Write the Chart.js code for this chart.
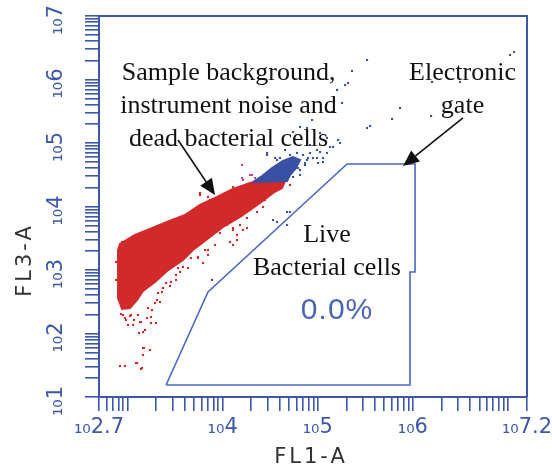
<!DOCTYPE html>
<html>
<head>
<meta charset="utf-8">
<style>
  html, body { margin: 0; padding: 0; background: #fff; }
</style>
</head>
<body>
<canvas id="cytoChart" width="552" height="472"></canvas>
<script src="https://cdn.jsdelivr.net/npm/chart.js"></script>
<script>
// all values are log10 exponents: [FL1-A, FL3-A]
var xRange = [2.7, 7.2];
var yRange = [1, 7];
var xLabelExps = [2.7, 4, 5, 6, 7.2];
var yLabelExps = [1, 2, 3, 4, 5, 6, 7];

var gateOutline = [[3.405, 1.189], [3.846, 2.654], [5.308, 4.669], [6.023, 4.669],
    [6.023, 2.969], [5.970, 2.969], [5.970, 1.189], [3.405, 1.189]];

var redCloudOutline = [[2.90, 3.315], [2.921, 3.41], [3.079, 3.551], [3.236, 3.646], [3.415, 3.756],
    [3.604, 3.866], [3.762, 4.024], [3.941, 4.150], [4.109, 4.276], [4.288, 4.370], [4.361, 4.402],
    [4.656, 4.402], [4.624, 4.291], [4.530, 4.213], [4.393, 4.055], [4.183, 3.835], [4.004, 3.677],
    [3.867, 3.520], [3.688, 3.315], [3.583, 3.157], [3.415, 2.984], [3.289, 2.811], [3.163, 2.669],
    [3.100, 2.528], [3.026, 2.402], [2.942, 2.386], [2.900, 2.559], [2.90, 3.315]];

var blueCloudOutline = [[4.319, 4.386], [4.414, 4.480], [4.519, 4.606], [4.635, 4.717], [4.740, 4.780],
    [4.814, 4.732], [4.772, 4.606], [4.708, 4.496], [4.677, 4.402], [4.319, 4.386]];

var redDots = [[2.942, 3.441], [3.005, 3.409], [2.879, 3.126], [2.879, 2.843], [2.931, 2.307],
    [2.973, 2.244], [3.026, 2.276], [3.068, 2.213], [3.005, 2.134], [3.131, 2.181], [3.205, 2.244],
    [3.257, 2.370], [3.184, 2.055], [3.121, 2.008], [3.163, 1.772], [3.236, 1.740], [3.163, 1.661],
    [2.921, 1.488], [2.973, 1.488], [3.100, 1.535], [3.152, 1.457], [3.310, 2.528], [3.362, 2.654],
    [3.447, 2.748], [3.510, 2.843], [3.341, 2.496], [3.552, 2.969], [3.636, 3.031], [3.762, 4.213],
    [3.867, 4.102], [3.447, 3.756], [3.341, 3.630], [3.552, 3.819], [4.109, 3.661], [4.151, 3.472],
    [4.214, 3.630], [3.972, 3.583], [4.035, 3.756], [4.288, 3.945], [4.446, 4.102], [4.708, 4.339],
    [3.741, 3.189], [3.815, 3.315],
    [3.036, 3.394], [3.036, 3.283], [2.952, 2.291], [2.984, 2.213], [3.036, 2.291], [3.110, 2.291],
    [3.142, 2.181], [3.058, 2.134], [3.163, 2.024], [3.247, 2.165], [3.299, 2.165], [3.247, 2.260],
    [3.215, 2.402], [3.289, 2.480], [3.320, 2.638], [3.373, 2.717], [3.405, 2.795], [3.457, 2.811],
    [3.510, 2.921], [3.531, 3.031], [3.583, 3.047], [3.667, 3.189], [3.741, 3.205], [3.794, 3.110],
    [3.846, 3.315], [3.846, 3.236], [3.920, 3.394], [3.173, 1.772], [3.089, 1.535], [3.142, 1.441],
    [3.762, 4.181], [3.888, 4.071], [3.846, 4.150], [3.657, 3.866], [3.993, 4.181], [4.109, 4.307],
    [4.361, 3.913], [4.425, 3.992], [4.256, 3.819], [4.183, 3.709], [4.109, 3.630], [4.151, 3.551],
    [4.078, 3.441], [4.109, 3.394], [4.256, 3.661], [4.046, 3.709]];

var blueDots = [[4.467, 4.811], [4.782, 4.843], [4.887, 4.732], [4.992, 4.890], [5.055, 4.701],
    [5.097, 4.843], [5.161, 4.937], [4.992, 4.764], [4.782, 4.701], [4.866, 4.654], [4.814, 4.575],
    [4.740, 4.465], [4.530, 3.787], [5.518, 6.307], [5.360, 6.134], [5.318, 5.945], [5.287, 5.913],
    [5.203, 5.835], [5.255, 5.630], [5.150, 5.488], [4.940, 5.362], [5.518, 5.236], [5.550, 5.268],
    [5.213, 5.047], [5.234, 5.000], [5.129, 4.937], [5.024, 4.858], [4.919, 4.843], [5.055, 4.764],
    [4.950, 4.764], [5.003, 4.685], [4.814, 5.252], [4.887, 5.236], [4.740, 5.173], [5.024, 5.157],
    [5.097, 5.079], [4.677, 3.913], [3.888, 2.843], [4.708, 3.913], [4.919, 4.969], [4.656, 4.890],
    [4.551, 4.764],
    [4.467, 4.843], [4.572, 4.732], [4.603, 4.764], [4.708, 4.811], [4.761, 4.732], [4.793, 4.606],
    [4.814, 4.496], [4.866, 4.685], [4.898, 4.764], [4.845, 4.811], [4.572, 3.756], [4.677, 3.709]];

var greyDots = [[5.865, 5.551], [5.781, 5.378], [6.191, 5.425], [7.022, 6.386], [7.064, 6.433],
    [6.202, 5.961], [6.496, 5.961]];

var magentaDots = [[4.204, 4.654], [4.309, 4.496], [4.214, 4.417], [4.204, 4.449], [4.288, 4.496],
    [4.340, 4.449]];

// annotations: [text, xExp, yExp]
var noteLines = [
    ['Sample background,', 4.062, 6.102],
    ['instrument noise and', 4.062, 5.583],
    ['dead bacterial cells', 4.062, 5.063],
    ['Electronic', 6.522, 6.102],
    ['gate', 6.522, 5.583],
    ['Live', 5.097, 3.551],
    ['Bacterial cells', 5.097, 3.031]
];
var gatePercent = ['0.0%', 5.203, 2.354];
// arrows: [fromX, fromY, toX, toY]
var arrows = [[3.531, 5.047, 3.920, 4.181], [6.527, 5.394, 5.897, 4.638]];

var AXIS_BLUE = '#3d57ab';

function toPoints(list) {
    return list.map(function (p) { return { x: Math.pow(10, p[0]), y: Math.pow(10, p[1]) }; });
}

function logTicks(range) {
    var lo = Math.pow(10, range[0]), hi = Math.pow(10, range[1]);
    var out = [lo];
    for (var e = Math.floor(range[0]); e < Math.ceil(range[1]); e++) {
        for (var m = 1; m < 10; m++) {
            var v = m * Math.pow(10, e);
            if (v > lo * 1.0001 && v < hi * 0.9999) out.push(v);
        }
    }
    out.push(hi);
    return out;
}

function expLabel(list) {
    return function (value) {
        var e = Math.log10(value);
        for (var i = 0; i < list.length; i++) {
            if (Math.abs(list[i] - e) < 0.01) return '\u2081\u2080' + list[i];
        }
        return '';
    };
}

function dotSet(list, color) {
    return {
        data: toPoints(list),
        pointStyle: 'rect',
        pointRadius: 1.5,
        pointBorderWidth: 0,
        backgroundColor: color,
        borderColor: color,
        showLine: false
    };
}

function shapeSet(list, color) {
    return {
        data: toPoints(list),
        showLine: true,
        fill: 'shape',
        backgroundColor: color,
        borderColor: color,
        borderWidth: 2,
        pointRadius: 0
    };
}

var frameAndNotes = {
    id: 'frameAndNotes',
    afterDatasetsDraw: function (chart) {
        var ctx = chart.ctx, a = chart.chartArea;
        var xs = chart.scales.x, ys = chart.scales.y;
        function px(e) { return xs.getPixelForValue(Math.pow(10, e)); }
        function py(e) { return ys.getPixelForValue(Math.pow(10, e)); }

        ctx.save();
        // top and right frame
        ctx.strokeStyle = AXIS_BLUE;
        ctx.lineWidth = 2;
        ctx.beginPath();
        ctx.moveTo(a.left, a.top);
        ctx.lineTo(a.right, a.top);
        ctx.lineTo(a.right, a.bottom);
        ctx.stroke();

        ctx.fillStyle = '#111';
        ctx.font = '26px "Liberation Serif"';
        ctx.textAlign = 'center';
        ctx.textBaseline = 'middle';
        noteLines.forEach(function (n) { ctx.fillText(n[0], px(n[1]), py(n[2])); });

        ctx.fillStyle = '#4a64b8';
        ctx.font = '30px "Liberation Sans"';
        ctx.letterSpacing = '1px';
        ctx.fillText(gatePercent[0], px(gatePercent[1]), py(gatePercent[2]));
        ctx.letterSpacing = '0px';

        ctx.strokeStyle = '#111';
        ctx.fillStyle = '#111';
        ctx.lineWidth = 1.6;
        arrows.forEach(function (ar) {
            var x1 = px(ar[0]), y1 = py(ar[1]), x2 = px(ar[2]), y2 = py(ar[3]);
            var ang = Math.atan2(y2 - y1, x2 - x1), len = 16, half = 7;
            var bx = x2 - len * Math.cos(ang), by = y2 - len * Math.sin(ang);
            ctx.beginPath();
            ctx.moveTo(x1, y1);
            ctx.lineTo(bx, by);
            ctx.stroke();
            ctx.beginPath();
            ctx.moveTo(x2, y2);
            ctx.lineTo(bx + half * Math.sin(ang), by - half * Math.cos(ang));
            ctx.lineTo(bx - half * Math.sin(ang), by + half * Math.cos(ang));
            ctx.closePath();
            ctx.fill();
        });

        // axis titles
        ctx.fillStyle = '#333';
        ctx.font = '21px "DejaVu Sans"';
        ctx.letterSpacing = '3px';
        ctx.fillText('FL1-A', 311, 458);
        ctx.translate(26, 260);
        ctx.rotate(-Math.PI / 2);
        ctx.fillText('FL3-A', 0, 0);
        ctx.restore();
    }
};

function axis(range, labels, isX) {
    return {
        type: 'logarithmic',
        position: isX ? 'bottom' : 'left',
        min: Math.pow(10, range[0]),
        max: Math.pow(10, range[1]),
        afterBuildTicks: function (scale) {
            scale.ticks = logTicks(range).map(function (v) { return { value: v }; });
        },
        afterFit: function (scale) {
            if (isX) {
                scale.height = 75;
                scale.paddingLeft = 0;
                scale.paddingRight = 0;
            } else {
                scale.width = 99;
                scale.paddingTop = 0;
                scale.paddingBottom = 0;
            }
        },
        grid: {
            drawOnChartArea: false,
            drawTicks: true,
            tickLength: 14,
            color: AXIS_BLUE,
            lineWidth: 1.6
        },
        border: { display: true, color: AXIS_BLUE, width: 2 },
        ticks: {
            autoSkip: false,
            minRotation: isX ? 0 : 90,
            maxRotation: isX ? 0 : 90,
            crossAlign: isX ? 'near' : 'center',
            padding: isX ? 4 : 13,
            labelOffset: isX ? 0 : 4,
            color: AXIS_BLUE,
            font: { family: 'DejaVu Sans', size: 21 },
            callback: expLabel(labels)
        }
    };
}

var ctx = document.getElementById('cytoChart').getContext('2d');
new Chart(ctx, {
    type: 'scatter',
    data: {
        datasets: [
            {
                data: toPoints(gateOutline),
                showLine: true,
                borderColor: '#4a68c4',
                borderWidth: 1.6,
                pointRadius: 0,
                fill: false
            },
            dotSet(magentaDots, '#c044a8'),
            dotSet(greyDots, '#555555'),
            dotSet(blueDots, '#3a52a8'),
            shapeSet(blueCloudOutline, '#3a50a4'),
            dotSet(redDots, '#d22a2a'),
            shapeSet(redCloudOutline, '#d22a2a')
        ]
    },
    options: {
        responsive: false,
        animation: false,
        events: [],
        layout: { padding: { top: 16, right: 25, left: 0, bottom: 0 } },
        plugins: {
            legend: { display: false },
            tooltip: { enabled: false }
        },
        scales: {
            x: axis(xRange, xLabelExps, true),
            y: axis(yRange, yLabelExps, false)
        }
    },
    plugins: [frameAndNotes]
});
</script>
</body>
</html>
